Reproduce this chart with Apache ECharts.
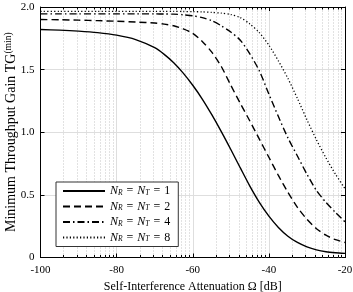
<!DOCTYPE html>
<html>
<head>
<meta charset="utf-8">
<script src="https://cdn.jsdelivr.net/npm/echarts@6/dist/echarts.min.js"></script>
<style>html,body{margin:0;padding:0;background:#fff}#c{width:353px;height:292px}</style>
</head>
<body>
<div id="c"></div>
<script>
var xs  = [-100,-95,-90,-85,-80,-75,-70,-67.5,-65,-62.5,-60,-57.5,-55,-52.5,-50,-47.5,-45,-42.5,-40,-37.5,-35,-32.5,-30,-27.5,-25,-22.5,-20];
var tg1 = [1.82,1.815,1.807,1.795,1.775,1.74,1.675,1.622,1.555,1.472,1.375,1.265,1.14,1.005,0.862,0.715,0.57,0.44,0.33,0.24,0.17,0.12,0.085,0.061,0.046,0.038,0.033];
var tg2 = [1.90,1.898,1.895,1.891,1.886,1.88,1.872,1.863,1.85,1.825,1.79,1.725,1.64,1.525,1.375,1.23,1.09,0.945,0.80,0.655,0.52,0.40,0.305,0.23,0.178,0.142,0.12];
var tg4 = [1.945,1.945,1.945,1.945,1.945,1.945,1.945,1.944,1.943,1.938,1.93,1.915,1.89,1.85,1.80,1.735,1.625,1.49,1.305,1.125,0.955,0.81,0.665,0.535,0.44,0.36,0.285];
var tg8 = [1.965,1.965,1.965,1.965,1.965,1.965,1.965,1.965,1.965,1.964,1.963,1.961,1.957,1.951,1.94,1.915,1.865,1.795,1.695,1.57,1.43,1.27,1.10,0.94,0.795,0.665,0.55];
var seriesNames = ['1','2','4','8'];
var decadeStarts = [-100,-80,-60,-40];
var minorOffsets = [6.02,9.54,12.04,13.98,15.56,16.90,18.06,19.08];

function pairs(v){ return xs.map(function(x,i){ return [x, v[i]]; }); }
var minorX = [];
decadeStarts.forEach(function(d){ minorOffsets.forEach(function(o){ minorX.push([d+o, 0]); }); });

var font = '"Liberation Serif", "DejaVu Serif", serif';
var chart = echarts.init(document.getElementById('c'), null, {renderer:'canvas'});
var dashes = ['solid',[7,4],[7,3,1.5,3],[1.2,2.2]];
var data = [tg1,tg2,tg4,tg8];
var series = data.map(function(v,i){
  return {
    name: seriesNames[i], type:'line', data: pairs(v), smooth:0.25, symbol:'none', z:5,
    lineStyle:{color:'#000', width: i===3?1.3:1.4, type: dashes[i]},
    itemStyle:{color:'#000'}
  };
});
series.unshift({
  type:'custom', data: minorX, z:1, silent:true, clip:false,
  encode:{x:0,y:1},
  renderItem:function(params, api){
    var x = api.value(0);
    var b = api.coord([x,0]); var t = api.coord([x,2]);
    var px = Math.round(b[0]) + 0.5;
    return {type:'group', children:[
      {type:'line', shape:{x1:px,y1:b[1],x2:px,y2:t[1]}, style:{stroke:'#c4c4c4', lineWidth:1, lineDash:[1,2]}},
      {type:'line', shape:{x1:px,y1:b[1],x2:px,y2:b[1]-2.5}, style:{stroke:'#000', lineWidth:1}},
      {type:'line', shape:{x1:px,y1:t[1],x2:px,y2:t[1]+2.5}, style:{stroke:'#000', lineWidth:1}}
    ]};
  }
});

var axisCommon = {
  axisLine:{show:true, onZero:false, lineStyle:{color:'#000', width:1}},
  axisTick:{show:true, inside:true, length:4, lineStyle:{color:'#000'}}
};
var option = {
  animation:false,
  backgroundColor:'#fff',
  grid:{left:40.5, right:8, top:7, bottom:34.5, containLabel:false, outerBoundsMode:'none'},
  legend:{
    orient:'vertical', left:56, top:182,
    backgroundColor:'#fff', borderColor:'#333', borderWidth:1, borderRadius:0,
    padding:[3,8,3,6], itemGap:3.5, itemWidth:42, itemHeight:12,
    itemStyle:{opacity:0},
    data: seriesNames,
    formatter:function(n){ return '{i|N}{s|R}{e|=}{i|N}{s|T}{e|=}{t|' + n + '}'; },
    textStyle:{fontFamily:font, fontSize:12, color:'#000',
      rich:{
        i:{fontFamily:font, fontStyle:'italic', fontSize:12, color:'#000'},
        s:{fontFamily:font, fontStyle:'italic', fontSize:7.5, color:'#000', verticalAlign:'bottom', padding:[4,0,0,0]},
        e:{fontFamily:font, fontSize:12, color:'#000', padding:[0,4,0,4]},
        t:{fontFamily:font, fontSize:12, color:'#000'}
      }}
  },
  xAxis:[
    Object.assign({type:'value', min:-100, max:-20, interval:20,
      name:'Self-Interference Attenuation Ω [dB]', nameLocation:'middle', nameGap:21,
      nameTextStyle:{fontFamily:font, fontSize:12, color:'#000'},
      axisLabel:{fontFamily:font, fontSize:11, color:'#000', margin:7,
        formatter:function(v){ return String(v); }},
      splitLine:{show:true, lineStyle:{color:'#dedede', width:1}}
    }, axisCommon),
    Object.assign({type:'value', min:-100, max:-20, interval:20, position:'top',
      axisLabel:{show:false}, splitLine:{show:false}}, axisCommon)
  ],
  yAxis:[
    Object.assign({type:'value', min:0, max:2, interval:0.5,
      name:'{a|Minimum Throughput Gain TG}{b|(min)}', nameLocation:'middle', nameGap:21, nameRotate:90,
      nameMoveOverlap:false,
      nameTextStyle:{fontFamily:font, fontSize:14, color:'#000',
        rich:{a:{fontFamily:font, fontSize:14, color:'#000'},
              b:{fontFamily:font, fontSize:9.5, color:'#000', verticalAlign:'top', padding:[0,0,6,0]}}},
      axisLabel:{fontFamily:font, fontSize:11, color:'#000', margin:6,
        formatter:function(v){ return v===0 ? '0' : v.toFixed(1); }},
      splitLine:{show:true, lineStyle:{color:'#dedede', width:1}}
    }, axisCommon),
    Object.assign({type:'value', min:0, max:2, interval:0.5, position:'right',
      axisLabel:{show:false}, splitLine:{show:false}}, axisCommon)
  ],
  series: series
};
chart.setOption(option);
</script>
</body>
</html>
